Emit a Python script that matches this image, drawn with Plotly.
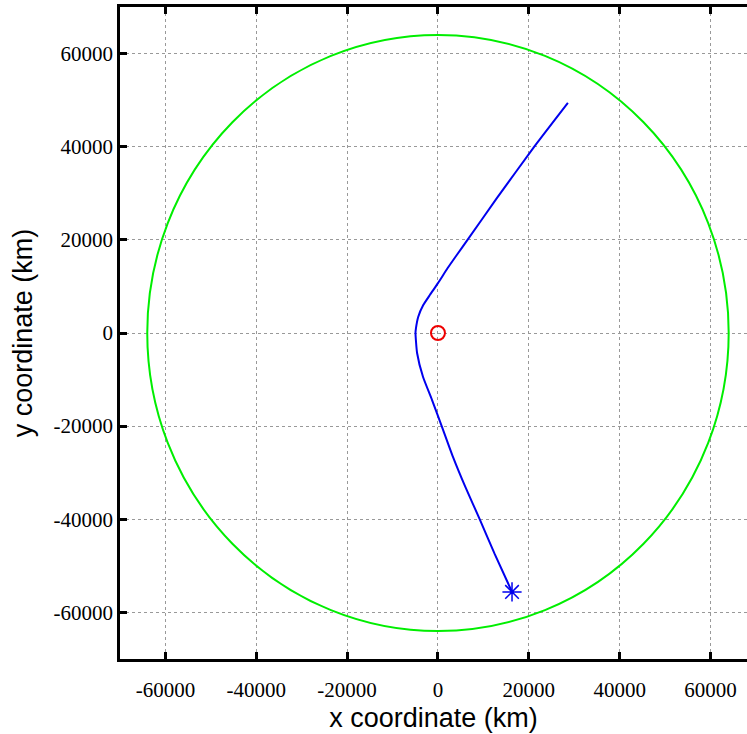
import plotly.graph_objects as go

# Trajectory (km)
traj_x = [16300, 12500, 9200, 6000, 3300, 900, -1300, -3300, -4600, -4950,
          -4850, -4340, -3240, -1760, 0, 2100, 4100, 6500, 13000, 21200, 28600]
traj_y = [-55600, -47500, -40000, -33000, -26600, -20200, -14400, -9400, -4300, 0,
          1000, 3500, 6000, 8200, 10700, 13900, 16700, 20000, 29000, 40000, 49400]

start_x = [16300]
start_y = [-55600]

center_x = [0]
center_y = [0]

boundary_radius = 64000

tick_vals = [-60000, -40000, -20000, 0, 20000, 40000, 60000]
tick_text = [str(v) for v in tick_vals]

SERIF = "Times New Roman, Liberation Serif, serif"
SANS = "Arial, Liberation Sans, sans-serif"

fig = go.Figure()

fig.add_shape(type="circle", xref="x", yref="y",
              x0=-boundary_radius, y0=-boundary_radius,
              x1=boundary_radius, y1=boundary_radius,
              line=dict(color="#00ee00", width=2), layer="above")

fig.add_trace(go.Scatter(x=traj_x, y=traj_y, mode="lines",
                         line=dict(color="#0000ee", width=2, shape="spline", smoothing=0.5),
                         showlegend=False, hoverinfo="skip"))
fig.add_trace(go.Scatter(x=start_x, y=start_y, mode="markers",
                         marker=dict(symbol="asterisk-open", size=16, color="#0000ee",
                                     line=dict(color="#0000ee", width=1.5)),
                         showlegend=False))
fig.add_trace(go.Scatter(x=center_x, y=center_y, mode="markers",
                         marker=dict(symbol="circle-open", size=14, color="#ee0000",
                                     line=dict(color="#ee0000", width=2)),
                         showlegend=False))

axis_common = dict(
    tickvals=tick_vals, ticktext=tick_text,
    showgrid=True, gridcolor="#999999", griddash="dot", gridwidth=1,
    zeroline=False, automargin=False,
    showline=True, linecolor="black", linewidth=2.5,
    ticks="inside", ticklen=7, tickwidth=2.5, tickcolor="black",
    tickfont=dict(family=SERIF, size=21, color="black"),
)

fig.update_layout(
    width=747, height=734,
    margin=dict(l=120, r=0, t=7, b=75),
    font=dict(family=SERIF),
    plot_bgcolor="white", paper_bgcolor="white",
    xaxis=dict(range=[-70000, 68030], mirror="ticks", ticklabelstandoff=10,
               title=dict(text="x coordinate (km)", standoff=8,
                          font=dict(family=SANS, size=27, color="black")),
               **axis_common),
    yaxis=dict(range=[-70000, 70000],
               title=dict(text="y coordinate (km)", standoff=14,
                          font=dict(family=SANS, size=27, color="black")),
               **axis_common),
)

fig.write_html("out.html", config={"displayModeBar": False},
               post_script="document.body.style.margin='0';")
